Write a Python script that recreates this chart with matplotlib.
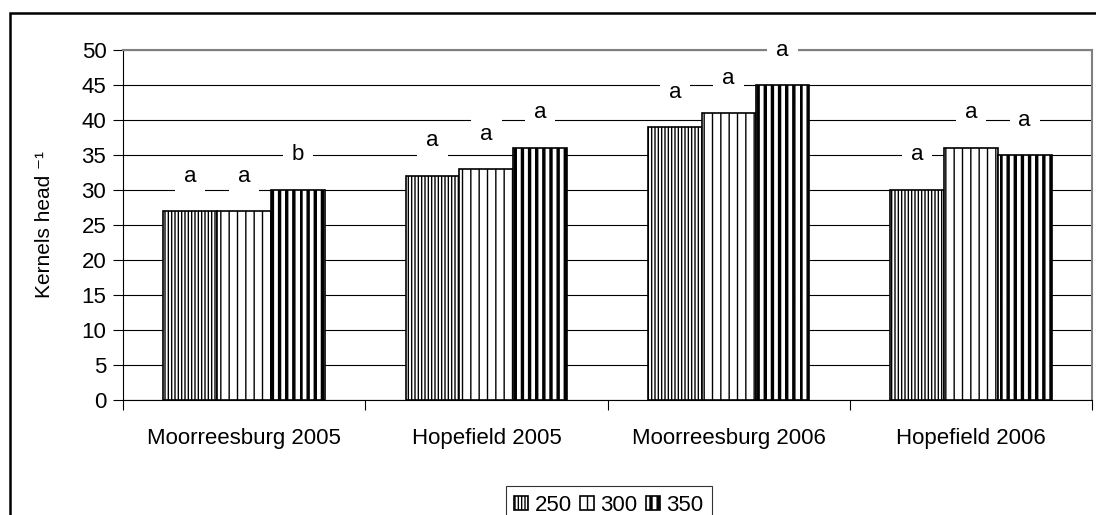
import matplotlib
matplotlib.use("Agg")
import matplotlib.pyplot as plt
from matplotlib import hatch as mhatch
from matplotlib.path import Path
from matplotlib.patches import Rectangle
import numpy as np
import warnings

warnings.filterwarnings("ignore")
plt.rcParams['font.family'] = ['Liberation Sans', 'DejaVu Sans']

sites = ["Moorreesburg 2005", "Hopefield 2005", "Moorreesburg 2006", "Hopefield 2006"]
densities = ["250", "300", "350"]
k250 = [27, 32, 39, 30]
k300 = [27, 33, 41, 36]
k350 = [30, 36, 45, 35]
let250 = ["a", "a", "a", "a"]
let300 = ["a", "a", "a", "a"]
let350 = ["b", "a", "a", "a"]


class ThickStripes(mhatch.HatchPatternBase):
    # 'I' = filled vertical stripes (bold version of '|')
    def __init__(self, hatch, density):
        self.num_lines = 7 * hatch.count('I')
        self.num_vertices = 5 * self.num_lines

    def set_vertices_and_codes(self, vertices, codes):
        steps = np.linspace(0, 1, self.num_lines, endpoint=False)
        sw = 0.28 / max(self.num_lines, 1)
        for k, s in enumerate(steps):
            vertices[5 * k:5 * k + 5] = [[s, 0], [s + sw, 0], [s + sw, 1], [s, 1], [s, 0]]
            codes[5 * k:5 * k + 5] = [Path.MOVETO, Path.LINETO, Path.LINETO,
                                      Path.LINETO, Path.CLOSEPOLY]


mhatch._hatch_types.append(ThickStripes)

fig = plt.figure(figsize=(10.96, 5.15), dpi=100)
# outer chart border (runs off right and bottom edges like the original)
fig.patches.append(Rectangle((10 / 1096, -0.05), 1.1, 1 - 13 / 515 + 0.05,
                             transform=fig.transFigure, fill=False,
                             edgecolor='black', linewidth=1.8, zorder=0))

ax = fig.add_axes([123 / 1096, 1 - 400 / 515, (1092 - 123) / 1096, 350 / 515])

x = np.arange(len(sites))
w = 0.222
series = [k250, k300, k350]
letters = [let250, let300, let350]
hatches = ['|||||', '||', 'II']

for i in range(3):
    ax.bar(x + (i - 1) * w, series[i], w, facecolor='white',
           edgecolor='black', linewidth=1.2, hatch=hatches[i],
           label=densities[i], zorder=3)
    for j in range(len(sites)):
        ax.text(x[j] + (i - 1) * w, series[i][j] + 5, letters[i][j],
                ha='center', va='center', fontsize=16, zorder=4,
                bbox=dict(boxstyle='square,pad=0.4', facecolor='white',
                          edgecolor='none'))

ax.set_xlim(-0.5, 3.5)
ax.set_ylim(0, 50)
ax.set_yticks(np.arange(0, 51, 5))
ax.yaxis.grid(True, color='black', linewidth=0.8, zorder=0)
ax.set_axisbelow(True)

ax.set_xticks(np.arange(-0.5, 4, 1))
ax.set_xticklabels([])
ax.set_xticks(x, minor=True)
ax.set_xticklabels(sites, minor=True, fontsize=16)
ax.tick_params(axis='x', which='minor', length=0, pad=20)
ax.tick_params(axis='x', which='major', length=7, direction='out', width=0.8)
ax.tick_params(axis='y', length=7, direction='out', width=0.8, labelsize=16, pad=5)

for s in ['top', 'right']:
    ax.spines[s].set_color('#808080')
    ax.spines[s].set_linewidth(1.5)
for s in ['left', 'bottom']:
    ax.spines[s].set_color('black')
    ax.spines[s].set_linewidth(0.8)

fig.text(45 / 1096, 1 - 225 / 515, "Kernels head \u207b\u00b9", rotation=90,
         ha='center', va='center', fontsize=15)

leg = fig.legend(loc='upper center', bbox_to_anchor=(609 / 1096, 1 - 475 / 515),
                 ncol=3, fontsize=16, frameon=True, fancybox=False,
                 edgecolor='black', handlelength=0.6, handleheight=0.6,
                 handletextpad=0.3, columnspacing=0.4, borderpad=0.4)
leg.get_frame().set_linewidth(0.8)

fig.savefig("out.png", dpi=100)
